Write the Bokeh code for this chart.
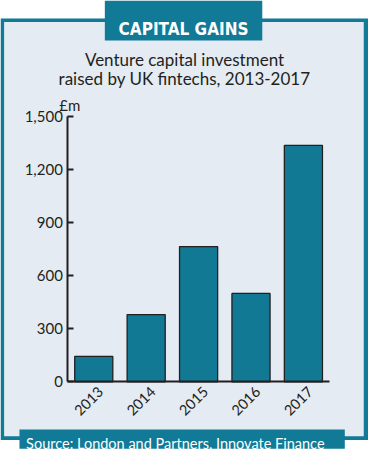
import numpy as np
from bokeh.plotting import figure
from bokeh.models import Range1d, LinearAxis, FixedTicker, NumeralTickFormatter, Label
from bokeh.embed import file_html
from bokeh.resources import INLINE

# ---- data ----
years = ["2013", "2014", "2015", "2016", "2017"]
investment = [144, 381, 765, 500, 1337]
y_ticks = [0, 300, 600, 900, 1200, 1500]
title_text = "CAPITAL GAINS"
subtitle_lines = ["Venture capital investment", "raised by UK fintechs, 2013-2017"]
unit_label = "£m"
source_text = "Source: London and Partners, Innovate Finance"

# ---- layout helpers (reference pixels -> figure pixels) ----
W, H = 368, 452
RW, RH = 388, 474
SX, SY = W / RW, H / RH


def X(r):
    return r * SX


def Y(r):
    return H - r * SY


TEAL = "#107A97"
BARC = "#127994"
BG = "#E4EBF2"
INK = "#231F20"
FONT = "Lato"

p = figure(width=W, height=H, x_range=Range1d(0, W), y_range=Range1d(0, H),
           x_axis_type=None, y_axis_type=None, toolbar_location=None,
           output_backend="svg", min_border=0)
p.title.visible = False
p.outline_line_color = None
p.background_fill_color = "white"
p.border_fill_color = "white"

# panel decorations
p.quad(left=[X(0)], right=[X(387.5)], bottom=[Y(461)], top=[Y(19)],
       fill_color=TEAL, line_color=None)
p.quad(left=[X(3.8)], right=[X(383)], bottom=[Y(457)], top=[Y(22.5)],
       fill_color=BG, line_color=None)
p.quad(left=[X(110)], right=[X(276)], bottom=[Y(42)], top=[Y(0)],
       fill_color=TEAL, line_color=None)
p.quad(left=[X(20)], right=[X(363)], bottom=[Y(470)], top=[Y(450)],
       fill_color=TEAL, line_color=None)

# value scale and category scale mapped onto the chart area
y0_px, ytop_px = Y(400), Y(121.7)
k = y_ticks[-1] / (ytop_px - y0_px)
n = len(years)
x0_px, x1_px = X(70.7), X(347)
kx = n / (x1_px - x0_px)
p.extra_y_ranges = {"val": Range1d(start=-y0_px * k, end=(H - y0_px) * k)}
p.extra_x_ranges = {"yr": Range1d(start=-x0_px * kx, end=(W - x0_px) * kx)}

pos = np.arange(n) + 0.5
p.vbar(x=pos, top=investment, bottom=0, width=0.727,
       x_range_name="yr", y_range_name="val",
       fill_color=BARC, line_color=INK, line_width=1.3)

# y axis
yax = LinearAxis(y_range_name="val", fixed_location=X(71),
                 ticker=FixedTicker(ticks=y_ticks),
                 formatter=NumeralTickFormatter(format="0,0"),
                 bounds=(y_ticks[0], y_ticks[-1]))
yax.major_tick_in = 6
yax.major_tick_out = 0
yax.minor_tick_line_color = None
yax.axis_line_width = 2
yax.axis_line_color = INK
yax.major_tick_line_width = 2
yax.major_tick_line_color = INK
yax.major_label_text_font = FONT
yax.major_label_text_font_size = "15px"
yax.major_label_text_color = INK
yax.major_label_standoff = 5
p.add_layout(yax, "left")

# x axis (label anchors nudged right, as in the reference)
label_shift = 7 * SX * kx
label_pos = [float(x + label_shift) for x in pos]
xax = LinearAxis(x_range_name="yr", fixed_location=Y(400),
                 ticker=FixedTicker(ticks=label_pos),
                 major_label_overrides={x: yr for x, yr in zip(label_pos, years)},
                 bounds=(0, n))
xax.major_tick_in = 0
xax.major_tick_out = 0
xax.minor_tick_line_color = None
xax.axis_line_width = 2
xax.axis_line_color = INK
xax.major_label_orientation = np.pi / 4
xax.major_label_text_font = FONT
xax.major_label_text_font_size = "14.5px"
xax.major_label_text_color = INK
xax.major_label_standoff = 7
p.add_layout(xax, "below")

# texts
p.add_layout(Label(x=X(193), y=Y(29.5), text=title_text, text_align="center",
                   text_baseline="alphabetic",
                   text_font="DejaVu Sans Condensed",
                   text_font_style="bold", text_font_size="17px", text_color="white"))
for i, line in enumerate(subtitle_lines):
    p.add_layout(Label(x=X(194), y=Y(62 + 20 * i), text=line, text_align="center",
                       text_baseline="alphabetic", text_font=FONT,
                       text_font_size="17px", text_color=INK))
p.add_layout(Label(x=X(62), y=Y(110), text=unit_label, text_align="left",
                   text_baseline="alphabetic", text_font=FONT,
                   text_font_size="15px", text_color=INK))
p.add_layout(Label(x=X(27), y=Y(464.5), text=source_text, text_align="left",
                   text_baseline="alphabetic", text_font=FONT,
                   text_font_size="14.5px", text_color="white"))

open("out.html", "w").write(file_html(p, INLINE))
